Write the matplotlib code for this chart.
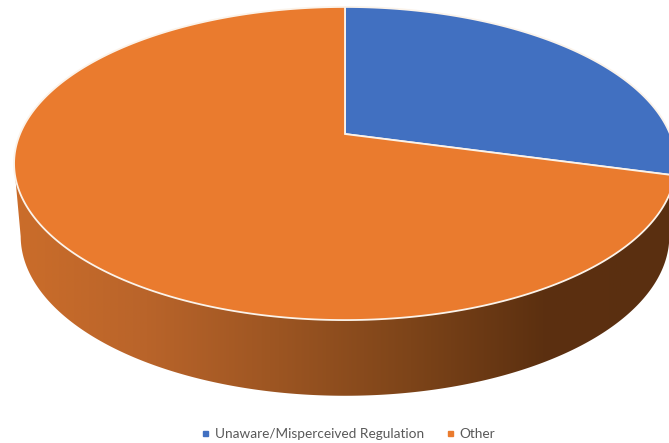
import numpy as np
import matplotlib
matplotlib.use('Agg')
import matplotlib.pyplot as plt
from matplotlib.colors import LinearSegmentedColormap
from matplotlib.lines import Line2D
from matplotlib.patches import Polygon

# data
categorias = ['Unaware/Misperceived Regulation', 'Other']
valores = [29.2, 70.8]
cores = ['#4170C1', '#EA7B2E']

# pie geometry in pixels (the picture is a tilted disc)
cx, cy = 345, 134
a, b, k = 325, 151, 0.1885
cy_base, a_base, b_base = 206, 318.5, 154


def projeta(ang, cy0=cy, a0=a, b0=b):
    # ang measured clockwise from the top of the disc
    u = np.sin(ang)
    v = np.cos(ang)
    w = 1 + k * v
    return cx + a0 * u / w, cy0 - b0 * v / w


fig = plt.figure(figsize=(6.69, 4.43), dpi=100)
ax = fig.add_axes([0, 0, 1, 1])
ax.set_xlim(0, 669)
ax.set_ylim(443, 0)
ax.axis('off')

# side wall, between the widest points of the top and of the base
ang_wall = np.radians(np.linspace(101, 259, 400))
xt, yt = projeta(ang_wall)
xb, yb = projeta(ang_wall, cy_base, a_base, b_base)
wall = Polygon(np.r_[np.c_[xt, yt], np.c_[xb, yb][::-1]], closed=True,
               fc='none', ec='none')
ax.add_patch(wall)
grad = LinearSegmentedColormap.from_list(
    'parede', ['#CB6D2A', '#B9642A', '#9C5522', '#7D4419', '#5C3010', '#5A2F10'])
img = ax.imshow(np.linspace(0, 1, 256).reshape(1, -1), cmap=grad,
                extent=[14, 676, 400, 130], aspect='auto', zorder=1)
img.set_clip_path(wall)
ax.set_xlim(0, 669)
ax.set_ylim(443, 0)

# top of the pie
inicio = 0
for valor, cor in zip(valores, cores):
    fim = inicio + valor / sum(valores) * 2 * np.pi
    ang = np.linspace(inicio, fim, 300)
    x, y = projeta(ang)
    pts = np.r_[[[cx, cy]], np.c_[x, y]]
    ax.add_patch(Polygon(pts, closed=True, fc=cor, ec='#FBF3EA', lw=1.3,
                         joinstyle='miter', zorder=2))
    inicio = fim

# legend
handles = [Line2D([], [], ls='none', marker='s', ms=3.6, color=c) for c in cores]
ax.legend(handles, categorias, loc='center', bbox_to_anchor=(347.5 / 669, 1 - 434 / 443),
          ncol=2, frameon=False, labelcolor='#595959',
          handletextpad=0.3, columnspacing=1.5, handlelength=0.8,
          borderpad=0, prop={'family': 'Lato', 'size': 9.8})

fig.savefig('out.png', dpi=100)
